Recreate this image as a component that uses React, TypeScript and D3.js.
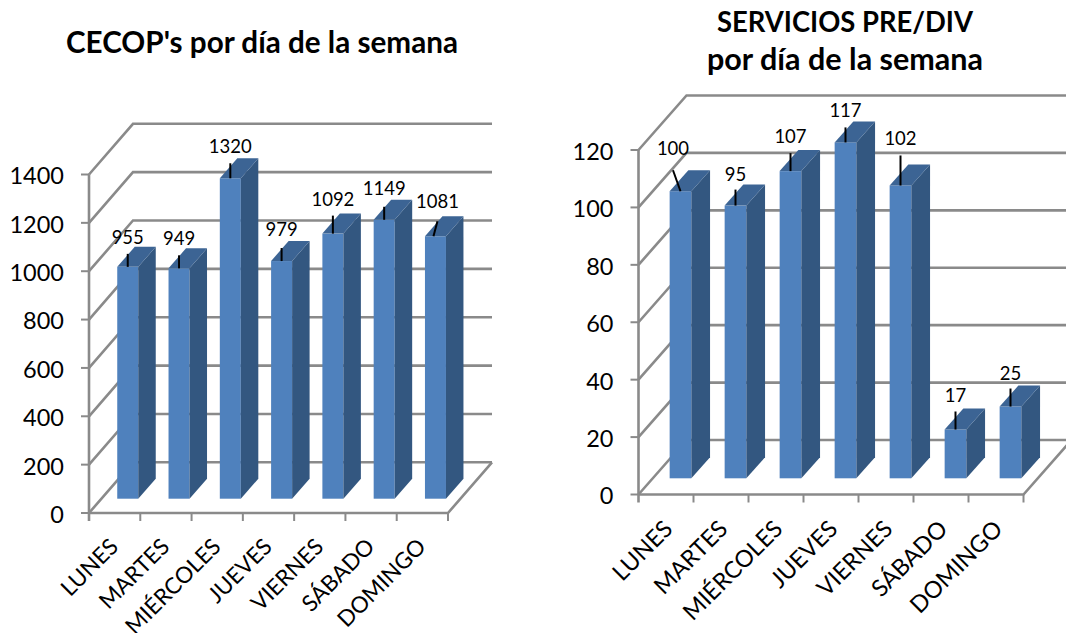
import React from "react";
import * as d3 from "d3";

const categories = ["LUNES", "MARTES", "MIÉRCOLES", "JUEVES", "VIERNES", "SÁBADO", "DOMINGO"];
const cecopValues = [955, 949, 1320, 979, 1092, 1149, 1081];
const serviciosValues = [100, 95, 107, 117, 102, 17, 25];
const cecopTicks = [0, 200, 400, 600, 800, 1000, 1200, 1400];
const serviciosTicks = [0, 20, 40, 60, 80, 100, 120];

const FONT = "Lato, Carlito, 'Open Sans', sans-serif";
const GRID = "#8a8a8a";

type Leader = [number, number, number, number];

type ChartProps = {
  values: number[];
  ticks: number[];
  x0: number; x1: number; y0: number; yTop: number; domainMax: number;
  backDx: number; backDy: number;
  barOffX: number; barOffY: number; barW: number; barK: number;
  depthX: number; depthY: number;
  labelDx: number; labelDy: number; labelSize: number;
  leaders: Leader[];
};

function Chart3D(p: ChartProps) {
  const y = d3.scaleLinear().domain([0, p.domainMax]).range([p.y0, p.yTop]);
  const x = d3.scaleBand<string>().domain(categories).range([p.x0, p.x1]);
  const step = x.step();
  const base = y(0);
  const rightBack = p.x1 + p.backDx;
  const floor = `M${p.x0},${base}L${p.x1},${base}L${rightBack},${base + p.backDy}`;
  return (
    <g>
      {p.ticks.map((t) => (
        <g key={t}>
          <path
            d={`M${p.x0},${y(t)}L${p.x0 + p.backDx},${y(t) + p.backDy}L${rightBack},${y(t) + p.backDy}`}
            fill="none" stroke={GRID} strokeWidth={2.6}
          />
          <line x1={p.x0 - 8} x2={p.x0} y1={y(t)} y2={y(t)} stroke={GRID} strokeWidth={2} />
          <text x={p.x0 - 25} y={y(t)} dy="0.42em" textAnchor="end" fontSize={23.5} fill="#000" fontFamily={FONT}>{t}</text>
        </g>
      ))}
      <path d={floor} fill="none" stroke={GRID} strokeWidth={2.6} />
      <line x1={p.x0} x2={p.x0} y1={y(p.domainMax)} y2={base + 8} stroke={GRID} strokeWidth={2.6} />
      {categories.map((c, i) => (
        <line key={c} x1={p.x0 + (i + 1) * step} x2={p.x0 + (i + 1) * step} y1={base} y2={base + 8} stroke={GRID} strokeWidth={2} />
      ))}
      {categories.map((c, i) => {
        const cx = (x(c) as number) + step / 2;
        const bl = cx + p.barOffX - p.barW / 2;
        const br = bl + p.barW;
        const by = base + p.barOffY;
        const ty = by - (base - y(p.values[i])) * p.barK;
        const dx = p.depthX, dy = p.depthY;
        const mid = (bl + br) / 2;
        const [lx, ly, lb, gap] = p.leaders[i];
        return (
          <g key={c}>
            <rect x={bl} y={ty} width={p.barW} height={by - ty} fill="#4f81bd" />
            <path d={`M${br},${ty}L${br + dx},${ty - dy}L${br + dx},${by - dy}L${br},${by}Z`} fill="#335780" />
            <path d={`M${bl},${ty}L${bl + dx},${ty - dy}L${br + dx},${ty - dy}L${br},${ty}Z`} fill="#3c6494" />
            <line x1={mid + lb} y1={ty} x2={mid + lx} y2={ty - ly} stroke="#000" strokeWidth={2} />
            <text x={mid + lx} y={ty - ly - gap} textAnchor="middle" fontSize={18.5} fill="#000" fontFamily={FONT}>{p.values[i]}</text>
            <text
              transform={`translate(${cx + p.labelDx},${base + p.labelDy}) rotate(-45)`}
              textAnchor="end" fontSize={p.labelSize} fill="#000" fontFamily={FONT}
            >{c}</text>
          </g>
        );
      })}
    </g>
  );
}

const cecopLeaders: Leader[] = [
  [0, 13, 0, 10], [0, 13, 0, 10], [0, 15, 0, 10], [0, 13, 0, 12], [0, 18, 0, 10], [0, 13, 0, 12], [2, 15, -2, 13],
];
const serviciosLeaders: Leader[] = [
  [-7.5, 21, 0, 15], [0, 16, 0, 9], [0, 18, 0, 10], [0, 15, 0, 10], [0, 30, 0, 10], [0, 18, 0, 9], [0, 18, 0, 9],
];

export default function App() {
  return (
    <svg width={1066} height={633} style={{ position: "absolute", left: 0, top: 0, background: "#fff" }}>
      <text x={262} y={53} textAnchor="middle" fontSize={29.5} fontWeight={700} fontFamily={FONT} textLength={392} lengthAdjust="spacingAndGlyphs">CECOP's por día de la semana</text>
      <text x={845} y={32} textAnchor="middle" fontSize={28.5} fontWeight={700} fontFamily={FONT} textLength={256} lengthAdjust="spacingAndGlyphs">SERVICIOS PRE/DIV</text>
      <text x={845} y={70} textAnchor="middle" fontSize={29.5} fontWeight={700} fontFamily={FONT} textLength={276} lengthAdjust="spacingAndGlyphs">por día de la semana</text>
      <Chart3D
        values={cecopValues} ticks={cecopTicks}
        x0={89} x1={448} y0={513} yTop={174.5} domainMax={1400}
        backDx={44} backDy={-50.7} barOffX={13.1} barOffY={-14.3} barW={21} barK={1.004}
        depthX={17.5} depthY={20} labelDx={5} labelDy={35} labelSize={22.5} leaders={cecopLeaders}
      />
      <Chart3D
        values={serviciosValues} ticks={serviciosTicks}
        x0={638.5} x1={1023.5} y0={494.5} yTop={150} domainMax={120}
        backDx={48} backDy={-54.5} barOffX={14.5} barOffY={-16.2} barW={21.7} barK={1}
        depthX={18.7} depthY={21} labelDx={8} labelDy={36} labelSize={23.5} leaders={serviciosLeaders}
      />
    </svg>
  );
}
